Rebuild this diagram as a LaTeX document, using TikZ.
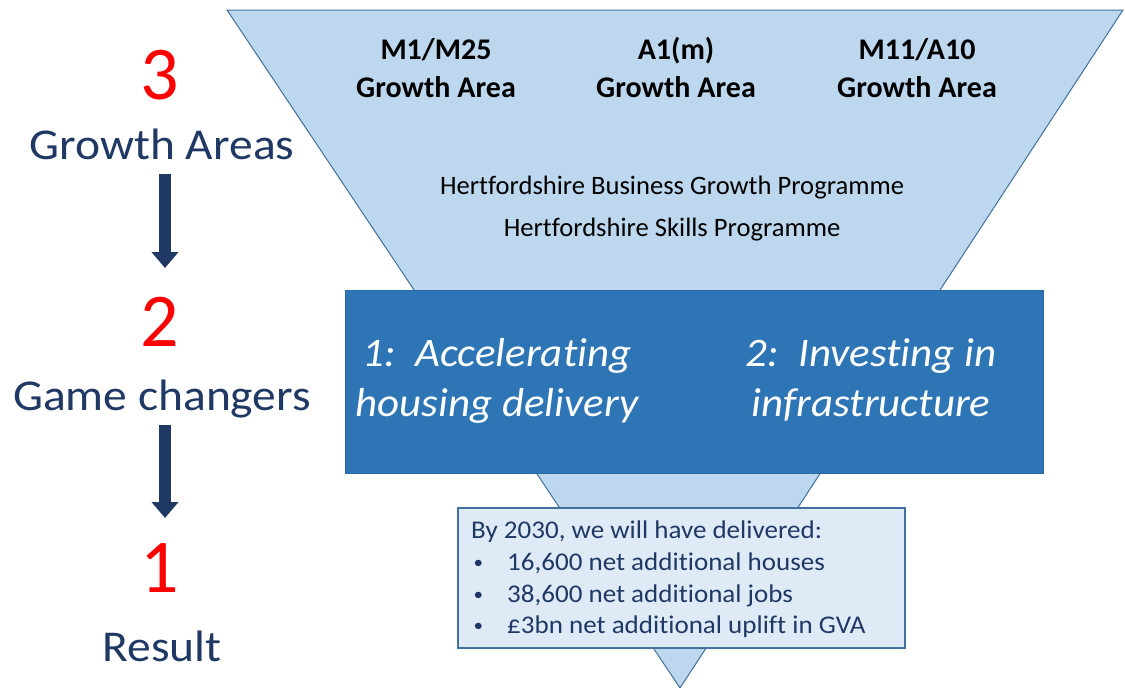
\documentclass[tikz,border=0pt]{standalone}
\usepackage{fontspec}
\setmainfont{Carlito}[Ligatures=NoCommon]
\newfontfamily\wideB{Carlito}[FakeStretch=1.08, Ligatures=NoCommon]
\newfontfamily\wideC{Carlito}[FakeStretch=1.06, Ligatures=NoCommon]
\usetikzlibrary{arrows.meta}
\definecolor{funnel}{HTML}{BDD7EE}
\definecolor{funneledge}{HTML}{41719C}
\definecolor{barblue}{HTML}{2E75B6}
\definecolor{resfill}{HTML}{DEEBF7}
\definecolor{navy}{HTML}{1F3864}
\definecolor{numred}{HTML}{FF0000}
\newcommand{\resbullet}{\makebox[36pt][l]{\hspace{2.5pt}{\fontsize{18}{18}\selectfont\raisebox{1.5pt}{•}}}}
\tikzset{
  bignum/.style={text=numred, font=\fontsize{76}{76}\selectfont, inner sep=0pt},
  leftlabel/.style={text=navy, font=\wideB\fontsize{44}{44}\selectfont, inner sep=0pt, anchor=base},
  arealabel/.style={align=center, font=\bfseries\fontsize{30}{38}\selectfont, inner sep=0pt, anchor=base},
  progtext/.style={font=\fontsize{26.6}{26.6}\selectfont, inner sep=0pt},
  changer/.style={text=white, align=center, font=\wideC\itshape\fontsize{40.5}{50}\selectfont, inner sep=0pt, anchor=base},
  bigarrow/.style={draw=navy, line width=12pt, -{Triangle[width=26pt,length=16pt]}},
  restext/.style={text=navy, font=\wideC\fontsize{25.5}{25.5}\selectfont, inner sep=0pt, anchor=base west}
}
\begin{document}
\begin{tikzpicture}[x=1pt,y=-1pt]
\useasboundingbox (0,0) rectangle (1125,688);
% funnel
\path[fill=funnel, draw=funneledge, line width=1pt] (227,10) -- (1123,10) -- (680,688) -- cycle;
% game changers bar
\path[fill=barblue, draw=barblue!90!black, line width=0.8pt] (345,290) rectangle (1043,473);
% result box
\path[fill=resfill, draw=funneledge, line width=1.2pt] (458,508) rectangle (905,648);

% top labels (anchor at last baseline)
\node[arealabel] (m1) at (436,97.5) {M1/M25\\Growth Area};
\node[arealabel] (a1) at (676,97.5) {A1(m)\\Growth Area};
\node[arealabel] (m11) at (917,97.5) {M11/A10\\Growth Area};
\node[progtext] (hbg) at (672,188) {Hertfordshire Business Growth Programme};
\node[progtext] (hsp) at (672,230) {Hertfordshire Skills Programme};

% game changers
\node[changer] (gc1) at (497,416) {1:\ \ Accelerating\\housing delivery};
\node[changer] (gc2) at (871,416) {2:\ \ Investing in\\infrastructure};

% result text
\node[restext] (r0) at (471,538) {By 2030, we will have delivered:};
\node[restext] (r1) at (471,570) {\resbullet 16,600 net additional houses};
\node[restext] (r2) at (471,602) {\resbullet 38,600 net additional jobs};
\node[restext] (r3) at (471,633) {\resbullet £3bn net additional uplift in GVA};

% left column
\node[bignum] (n3) at (160,75) {3};
\node[leftlabel] (ga) at (162,159) {Growth Areas};
\node[bignum] (n2) at (160,322) {2};
\node[leftlabel] (gc) at (162,410) {Game changers};
\node[bignum] (n1) at (160,568) {1};
\node[leftlabel] (res) at (162,661) {Result};

\draw[bigarrow, shorten <=30pt, shorten >=54pt] ([xshift=3pt]ga.center) -- ([xshift=3pt]ga.center |- n2.center);
\draw[bigarrow, shorten <=26pt, shorten >=50pt] ([xshift=3pt]gc.center) -- ([xshift=3pt]gc.center |- n1.center);
\end{tikzpicture}
\end{document}
